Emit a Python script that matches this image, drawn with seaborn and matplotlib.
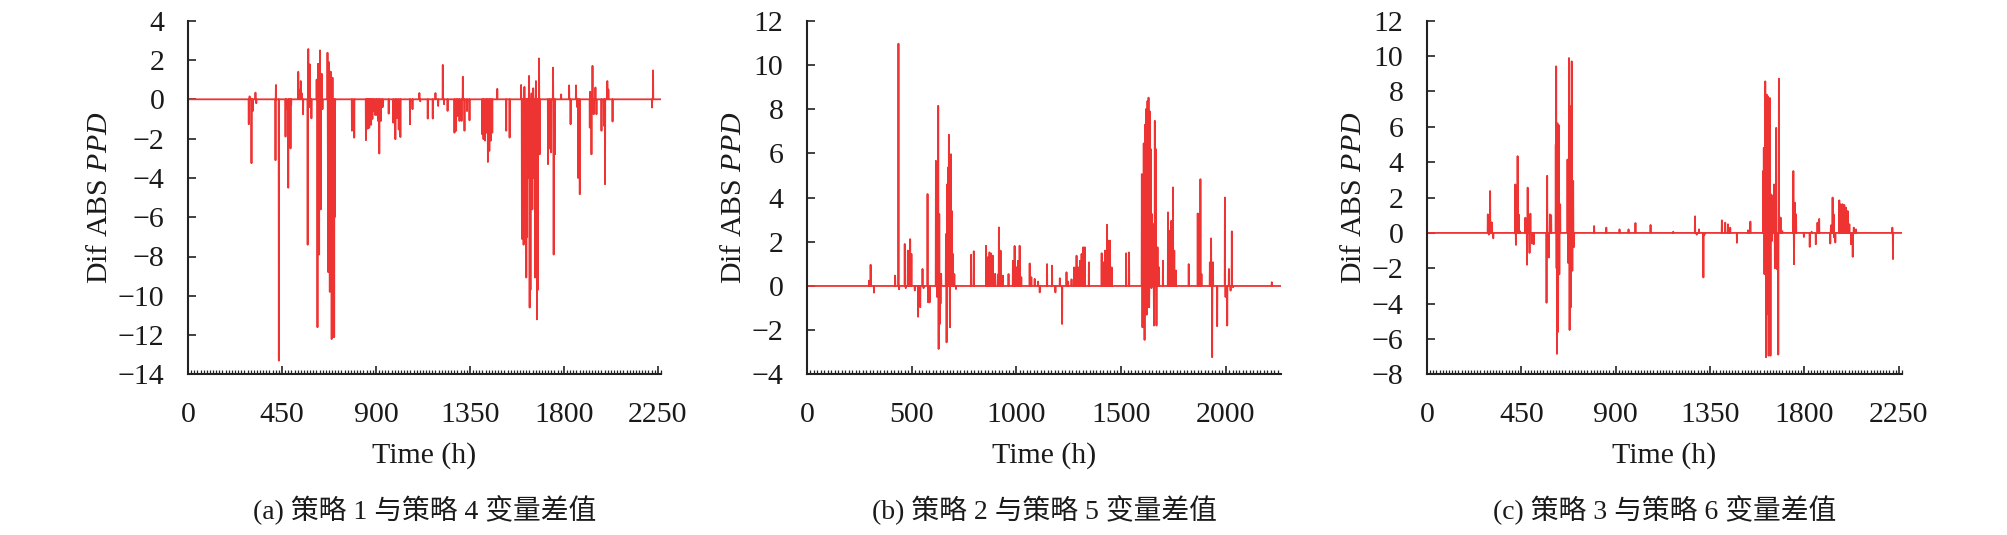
import numpy as np
import pandas as pd
import matplotlib
matplotlib.use("Agg")
import matplotlib.pyplot as plt
from matplotlib.ticker import MultipleLocator, AutoMinorLocator
import seaborn as sns

# ---------------- data (hour, value of spikes; baseline is 0) ----------------
N_HOURS = 2266

a_hours = [291, 295, 304, 310, 323, 327,
           419, 421, 435,
           467, 470, 480, 485, 491, 494,
           528, 531, 540, 545, 551,
           573, 576, 580, 583, 591,
           616, 620, 623, 626, 628, 632, 634, 636, 640, 644,
           668, 670, 672, 674, 676, 679, 681, 684, 686, 688, 690, 692, 695, 697, 700, 702, 704,
           785, 796,
           852, 856, 860, 864, 868, 872, 877, 883, 889, 896, 903, 910, 916, 924, 932,
           961,
           983, 993, 1001, 1009, 1017,
           1063, 1075, 1108, 1112, 1148, 1172, 1185,
           1198, 1220, 1226, 1243,
           1276, 1284, 1292, 1300, 1310, 1316, 1324, 1336, 1348,
           1409, 1415, 1422, 1430, 1436, 1443, 1450, 1457,
           1481, 1524, 1540,
           1595, 1599, 1603, 1607, 1611, 1616, 1620, 1624, 1628, 1633, 1636,
           1640, 1645, 1649, 1653, 1657, 1662, 1666, 1671, 1675, 1681, 1684,
           1724, 1731, 1739, 1748, 1751, 1757,
           1787, 1825, 1832, 1858, 1864, 1868, 1876,
           1924, 1926, 1932, 1937, 1943, 1951, 1956,
           1980, 1992, 1997, 2008, 2013, 2033,
           2222, 2227]
a_values = [-1.27, 0.15, -3.25, -0.6, 0.34, -0.2,
            -3.1, 0.73, -13.3,
            -1.9, -0.5, -4.5, -1.2, -2.5, -0.3,
            1.4, 0.5, 0.93, 0.3, -0.76,
            -7.4, 2.56, -0.4, 1.78, -0.97,
            1.0, -11.6, 1.81, -3.0, -7.9, 2.49, -4.0, -5.6, 1.3, -0.5,
            2.37, -4.0, -8.8, 1.9, 1.5, -9.8, -6.0, 1.4, -8.0, -12.2, -10.0, 1.1, -12.1, -9.0, -12.1, -6.0, -0.6,
            -1.6, -1.95,
            -2.08, -0.9, -1.5, -1.3, -1.45, -0.8, -1.3, -1.0, -0.6, -0.8, -0.8, -1.1, -2.76, -1.1, -0.4,
            -0.73,
            -1.19, -2.03, -0.95, -1.54, -1.92,
            -1.27, -0.5, 0.32, -0.1, -0.98, -0.98, 0.32,
            -0.34, 1.75, -0.25, -0.59,
            -1.7, -1.6, -0.85, -1.1, -1.1, 1.15, -1.6, -0.6, -1.07,
            -1.78, -2.03, -2.1, -1.7, -3.19, -2.63, -2.1, -1.7,
            0.53, -1.6, -1.95,
            0.73, -7.1, -4.0, -7.4, 0.63, -6.0, -9.07, -7.0, -4.0, 1.19, -10.6,
            -9.7, 0.3, -5.6, 0.56, -4.0, -9.07, 0.93, -11.2, -9.7, 2.08, -2.8,
            -3.3, -2.5, -2.7, 1.61, -7.9, -2.8,
            0.25, 0.71, -1.27, 0.71, -0.4, -4.0, -4.83,
            -1.44, 0.39, -2.8, 1.7, -0.76, 0.6, -0.76,
            -1.6, -1.35, -4.32, 0.93, 0.5, -1.13,
            -0.42, 1.47]

b_hours = [296, 304, 320,
           421, 437, 440,
           467, 472, 482, 493, 499,
           515, 531, 541, 552, 557,
           576, 579, 586,
           616, 619, 622, 627, 629, 632, 635, 638, 641,
           664, 667, 670, 674, 678, 683, 688, 691, 697, 704, 712,
           784, 797,
           856, 864, 872, 880, 888, 899, 912, 917, 925, 936,
           963, 984, 992, 1000, 1008, 1016, 1024,
           1064, 1072, 1088, 1104, 1112,
           1147, 1171, 1187, 1208, 1219, 1240, 1248, 1264,
           1277, 1288, 1296, 1304, 1312, 1320, 1328, 1347,
           1408, 1416, 1424, 1434, 1440, 1448, 1456,
           1525, 1539,
           1600, 1603, 1606, 1609, 1613, 1616, 1620, 1623, 1627, 1632, 1635, 1638,
           1642, 1646, 1649, 1654, 1658, 1662, 1666, 1670, 1675, 1682, 1701,
           1725, 1733, 1741, 1749, 1755, 1763,
           1824, 1867, 1873, 1880, 1885,
           1925, 1931, 1936, 1940, 1960, 1997, 2000, 2008, 2016, 2024, 2030, 2036,
           2221]
b_values = [0.24, 0.96, -0.3,
            0.47, 10.96, -0.15,
            1.9, -0.1, 1.6, 2.12, 1.45,
            -0.2, -1.39, -0.96, 0.77, -0.1,
            4.16, -0.74, -0.74,
            5.66, 3.0, -0.5, 8.15, -2.85, 3.25, -1.72, -0.8, 0.55,
            2.35, -2.55, 4.6, 5.36, 6.84, -1.87, 5.96, 3.4, 1.45, 0.54, -0.14,
            1.41, 1.57,
            1.82, 1.3, 1.52, 1.47, 1.37, 0.55, 0.52, 2.65, 1.6, 0.47,
            0.54, 1.14, 1.81, 0.85, 1.14, 1.82, 0.4,
            1.02, 0.4, 0.32, 0.2, -0.29,
            0.99, 0.92, -0.29, 0.35, -1.72, 0.62, 0.2, 0.3,
            0.84, 1.37, 0.84, 1.14, 1.45, 1.75, 1.75, 1.07,
            1.48, 1.07, 1.6, 2.77, 2.05, 2.05, 0.84,
            1.48, 1.52,
            5.06, -1.87, -1.5, 6.45, -2.44, 7.3, 8.0, -1.3, 8.37, 8.52, -0.97, 7.9,
            6.2, -0.1, 3.25, 2.8, -1.79, 7.47, 6.2, -1.79, 1.75, 0.84, 1.14,
            3.33, 2.5, 2.95, 4.46, 1.6, 0.7,
            0.99, 3.28, 3.25, 4.83, 0.54,
            1.07, 2.15, -3.22, 1.07, -1.82, 4.0, -0.5, -1.79, 0.77, -0.21, 2.47, -0.06,
            0.17]

c_hours = [290, 295, 301, 306, 310, 316,
           421, 424, 432, 437, 442,
           469, 477, 480, 489, 493, 501, 509,
           570, 573, 581, 586, 592,
           614, 616, 618, 620, 622, 625, 628, 631, 635,
           670, 673, 677, 680, 683, 686, 690, 693, 697, 701,
           797, 855, 918, 961, 994, 1066, 1174,
           1278, 1286, 1297, 1318, 1323,
           1406, 1422, 1435, 1446, 1478, 1531, 1542,
           1603, 1606, 1609, 1613, 1617, 1620, 1623, 1626, 1629, 1635, 1638,
           1642, 1645, 1650, 1655, 1659, 1665, 1669, 1675, 1678, 1682, 1686, 1694,
           1747, 1750, 1754, 1760,
           1797, 1825, 1834, 1854, 1862, 1870,
           1923, 1926, 1934, 1939, 1942, 1947, 1966, 1971, 1974, 1982, 1990, 1998,
           2006, 2014, 2022, 2030, 2035, 2046,
           2219, 2222]
c_values = [1.05, -0.1, 2.37, 0.6, 0.58, -0.3,
            2.74, -0.68, 4.34, 1.05, 0.11,
            0.86, -1.8, 2.56, -1.13, 1.09, -0.6, -0.64,
            -3.95, 3.23, -1.39, 1.05, 1.0,
            5.0, 9.42, -2.0, -6.84, 6.2, -5.6, 6.1, -2.34, 1.62,
            4.15, -1.7, 9.89, -5.49, 7.16, -4.2, 9.7, -2.14, 2.94, -0.8,
            0.39, 0.3, 0.2, 0.2, 0.56, 0.45, 0.07,
            0.94, -0.1, 0.2, -2.52, -0.1,
            0.71, 0.58, 0.49, 0.3, -0.56, 0.15, 0.64,
            3.5, 4.81, -2.33, 8.57, -7.03, 7.82, -4.6, 7.72, -6.94, 7.63, -6.94,
            2.17, -0.45, 2.08, 2.74, -2.0, 5.94, -2.05, -6.88, 8.72, 0.83, 0.87, 0.11,
            3.5, -1.77, 1.71, 1.05,
            -0.23, -0.79, 0.07, -0.64, 0.58, 0.79,
            -0.6, 0.43, 2.0, 1.05, -0.26, -0.54, 1.84, 0.3, 1.62, 1.62, 1.58, 1.43,
            1.24, 0.49, -0.64, -1.35, 0.3, 0.2,
            0.3, -1.48]

panel_ylim = [(-14, 4), (-4, 12), (-8, 12)]
panel_xticks = [[0, 450, 900, 1350, 1800, 2250],
                [0, 500, 1000, 1500, 2000],
                [0, 450, 900, 1350, 1800, 2250]]
captions = ["(a) 策略 1 与策略 4 变量差值",
            "(b) 策略 2 与策略 5 变量差值",
            "(c) 策略 3 与策略 6 变量差值"]
x_label = "Time (h)"
y_label = r"Dif ABS $\mathit{PPD}$"


def build_series(hours, values):
    assert len(hours) == len(values)
    y = np.zeros(N_HOURS)
    y[np.array(hours)] = np.array(values)
    return pd.DataFrame({"hour": np.arange(N_HOURS), "value": y})


series = [build_series(a_hours, a_values),
          build_series(b_hours, b_values),
          build_series(c_hours, c_values)]

# ---------------- style ----------------
sns.set_theme(style="ticks")
plt.rcParams["font.family"] = ["Liberation Serif", "Noto Sans CJK SC"]
plt.rcParams["mathtext.fontset"] = "custom"
plt.rcParams["mathtext.rm"] = "Liberation Serif"
plt.rcParams["mathtext.it"] = "Liberation Serif:italic"
plt.rcParams["axes.unicode_minus"] = True

W, H = 2008, 535
fig = plt.figure(figsize=(W / 100, H / 100), dpi=100)

lefts = [188, 807, 1427]
widths = [473, 474, 475]
top_px, bot_px = 20.7, 374.4
FS = 21.5
CAP_FS = 20
line_color = "#EE3333"

for i in range(3):
    ax = fig.add_axes([lefts[i] / W, 1 - bot_px / H, widths[i] / W, (bot_px - top_px) / H])
    df = series[i]
    sns.lineplot(data=df, x="hour", y="value", ax=ax, color=line_color,
                 linewidth=1.3, estimator=None)
    ax.set_xlim(0, 2265)
    ax.set_ylim(*panel_ylim[i])
    ax.set_xticks(panel_xticks[i])
    ax.yaxis.set_major_locator(MultipleLocator(2))
    ax.xaxis.set_minor_locator(AutoMinorLocator(30))
    for s in ["top", "right"]:
        ax.spines[s].set_visible(False)
    for s in ["left", "bottom"]:
        ax.spines[s].set_linewidth(1.5)
        ax.spines[s].set_color("#222222")
    ax.tick_params(axis="both", which="major", direction="in", length=6, width=1.2,
                   color="#222222", labelsize=FS, labelcolor="#1a1a1a")
    ax.tick_params(axis="x", which="major", pad=20)
    ax.tick_params(axis="y", which="major", pad=17)
    ax.tick_params(axis="x", which="minor", direction="in", length=3, width=0.9,
                   color="#222222")
    ax.tick_params(axis="y", which="minor", left=False)
    ax.set_xlabel(x_label, fontsize=FS, color="#1a1a1a")
    ax.xaxis.set_label_coords(0.5, -0.19)
    ax.set_ylabel(y_label, fontsize=FS, color="#1a1a1a", labelpad=3)
    ax.grid(False)
    cx = (lefts[i] + widths[i] / 2) / W
    fig.text(cx, 1 - 510 / H, captions[i], ha="center", va="center",
             fontsize=CAP_FS, color="#1a1a1a")

fig.savefig("out.png", dpi=100)
